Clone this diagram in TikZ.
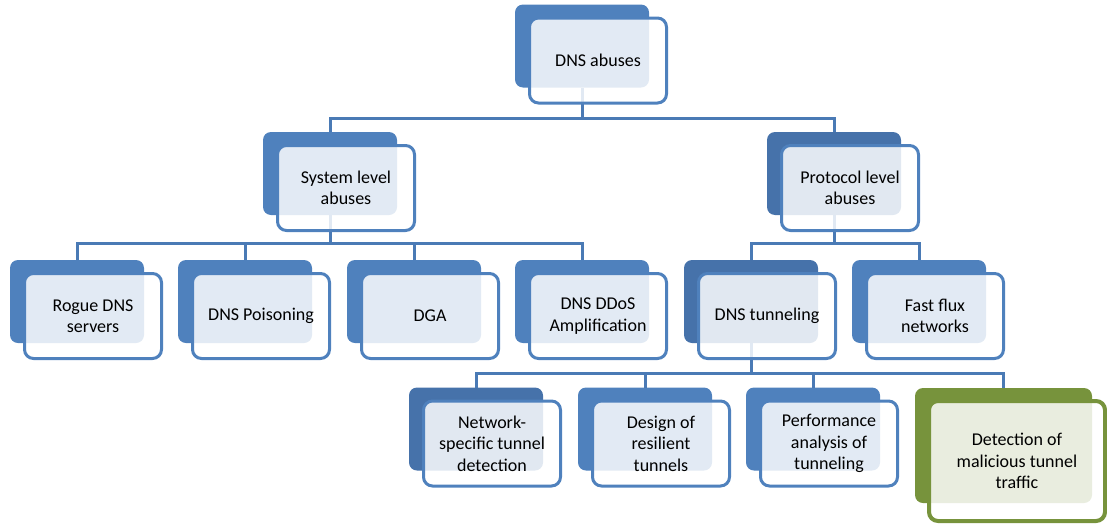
\documentclass[tikz,border=0pt]{standalone}
\usepackage{fontspec}
\setmainfont{Carlito}
\definecolor{blueA}{HTML}{4F81BD}
\definecolor{blueD}{HTML}{4672AA}
\definecolor{lineC}{HTML}{4A7AB5}
\definecolor{greenA}{HTML}{77933C}
\tikzset{
  backbox/.style={draw=none, fill=#1, rounded corners=8pt, minimum width=134pt, minimum height=83pt, inner sep=0pt, outer sep=0pt},
  frontbox/.style={draw=blueA, line width=3pt, fill=white, fill opacity=0.84, text opacity=1, rounded corners=9pt, minimum width=137pt, minimum height=85pt, inner sep=0pt, outer sep=0pt, align=center, font=\fontsize{18}{21.5}\selectfont},
  greenback/.style={backbox=greenA, minimum width=177pt, minimum height=115pt},
  greenfront/.style={frontbox, draw=greenA, line width=4pt, minimum width=176pt, minimum height=120pt},
  conn/.style={draw=lineC, line width=3pt},
}
\begin{document}
\begin{tikzpicture}[x=1pt,y=-1pt]
\useasboundingbox (0,0) rectangle (1107,525);
% back boxes
\node[backbox=blueA] (abB) at (582,46) {};
\node[backbox=blueA] (sysB) at (330,173.5) {};
\node[backbox=blueD] (proB) at (834,173.5) {};
\node[backbox=blueA] (rogB) at (77,301.5) {};
\node[backbox=blueA] (poiB) at (245,301.5) {};
\node[backbox=blueA] (dgaB) at (414,301.5) {};
\node[backbox=blueA] (ddoB) at (582,301.5) {};
\node[backbox=blueD] (tunB) at (751,301.5) {};
\node[backbox=blueA] (ffxB) at (919,301.5) {};
\node[backbox=blueD] (netB) at (476,429) {};
\node[backbox=blueA] (desB) at (645,429) {};
\node[backbox=blueA] (perB) at (813,429) {};
\node[greenback] (detB) at (1003.5,445.5) {};
% connector levels
\coordinate (h0) at (0,118);
\coordinate (h1) at (0,243);
\coordinate (h2) at (0,373);
\draw[conn] (abB.south) -- (abB.south |- h0) -| (sysB.north);
\draw[conn] (abB.south |- h0) -| (proB.north);
\draw[conn] (sysB.south) -- (sysB.south |- h1) -| (rogB.north);
\draw[conn] (sysB.south |- h1) -| (poiB.north);
\draw[conn] (sysB.south |- h1) -| (dgaB.north);
\draw[conn] (sysB.south |- h1) -| (ddoB.north);
\draw[conn] (proB.south) -- (proB.south |- h1) -| (tunB.north);
\draw[conn] (proB.south |- h1) -| (ffxB.north);
\draw[conn] (tunB.south) -- (tunB.south |- h2) -| (netB.north);
\draw[conn] (tunB.south |- h2) -| (desB.north);
\draw[conn] (tunB.south |- h2) -| (perB.north);
\draw[conn] (tunB.south |- h2) -| (detB.north);
% front boxes
\node[frontbox] (ab) at (598,60.5) {DNS abuses};
\node[frontbox] (sys) at (346,188) {System level\\abuses};
\node[frontbox] (pro) at (850,188) {Protocol level\\abuses};
\node[frontbox] (rog) at (93,316) {Rogue DNS\\servers};
\node[frontbox] (poi) at (261,316) {DNS Poisoning};
\node[frontbox] (dga) at (430,316) {DGA};
\node[frontbox] (ddo) at (598,316) {DNS DDoS\\Amplification};
\node[frontbox] (tun) at (767,316) {DNS tunneling};
\node[frontbox] (ffx) at (935,316) {Fast flux\\networks};
\node[frontbox] (net) at (492,443.5) {Network-\\specific tunnel\\detection};
\node[frontbox] (des) at (661,443.5) {Design of\\resilient\\tunnels};
\node[frontbox] (per) at (829,443.5) {Performance\\analysis of\\tunneling};
\node[greenfront] (det) at (1017,461) {Detection of\\malicious tunnel\\traffic};
\end{tikzpicture}
\end{document}
